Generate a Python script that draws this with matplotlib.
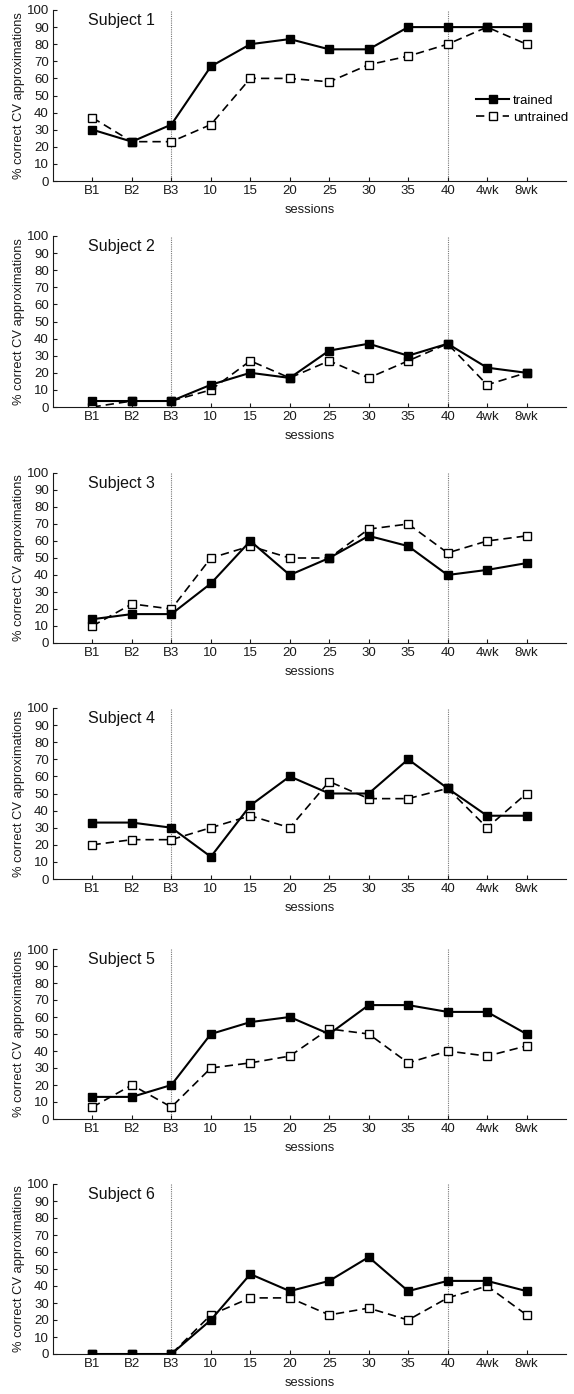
import matplotlib
matplotlib.use("Agg")
import matplotlib.pyplot as plt

plt.rcParams['font.family'] = ['Liberation Sans', 'DejaVu Sans']

sessions = ["B1", "B2", "B3", "10", "15", "20", "25", "30", "35", "40", "4wk", "8wk"]

s1_trained = [30, 23, 33, 67, 80, 83, 77, 77, 90, 90, 90, 90]
s1_untrained = [37, 23, 23, 33, 60, 60, 58, 68, 73, 80, 90, 80]

s2_trained = [3.5, 3.5, 3.5, 13, 20, 17, 33, 37, 30, 37, 23, 20]
s2_untrained = [0, 3.5, 3.5, 10, 27, 17, 27, 17, 27, 37, 13, 20]

s3_trained = [14, 17, 17, 35, 60, 40, 50, 63, 57, 40, 43, 47]
s3_untrained = [10, 23, 20, 50, 57, 50, 50, 67, 70, 53, 60, 63]

s4_trained = [33, 33, 30, 13, 43, 60, 50, 50, 70, 53, 37, 37]
s4_untrained = [20, 23, 23, 30, 37, 30, 57, 47, 47, 53, 30, 50]

s5_trained = [13, 13, 20, 50, 57, 60, 50, 67, 67, 63, 63, 50]
s5_untrained = [7, 20, 7, 30, 33, 37, 53, 50, 33, 40, 37, 43]

s6_trained = [0, 0, 0, 20, 47, 37, 43, 57, 37, 43, 43, 37]
s6_untrained = [0, 0, 0, 23, 33, 33, 23, 27, 20, 33, 40, 23]

trained = [s1_trained, s2_trained, s3_trained, s4_trained, s5_trained, s6_trained]
untrained = [s1_untrained, s2_untrained, s3_untrained, s4_untrained, s5_untrained, s6_untrained]

# panel top/bottom in pixels (from top of figure)
tops = [10, 236, 473, 708, 949, 1184]
bottoms = [181, 407, 643, 879, 1119, 1354]
W, H = 574, 1394
left_px, right_px = 53, 566

fig = plt.figure(figsize=(W / 100, H / 100), dpi=100)

x = list(range(1, len(sessions) + 1))
txt = '#1a1a1a'

for i in range(6):
    top, bot = tops[i], bottoms[i]
    ax = fig.add_axes([left_px / W, 1 - bot / H, (right_px - left_px) / W, (bot - top) / H])

    ax.axvline(3, color='#777777', lw=0.8, ls=(0, (1, 1)), zorder=1)
    ax.axvline(10, color='#777777', lw=0.8, ls=(0, (1, 1)), zorder=1)

    ax.plot(x, trained[i], color='black', lw=1.5, marker='s', markersize=5.5,
            markerfacecolor='black', markeredgecolor='black', label='trained', zorder=3)
    ax.plot(x, untrained[i], color='black', lw=1.2, ls=(0, (5, 3)), marker='s', markersize=5.5,
            markerfacecolor='white', markeredgecolor='black', markeredgewidth=1.0,
            label='untrained', zorder=2)

    ax.set_xlim(0, 13)
    ax.set_ylim(0, 100)
    ax.set_xticks(x)
    ax.set_xticklabels(sessions)
    ax.set_yticks(range(0, 101, 10))
    ax.tick_params(direction='in', length=3, width=0.8, labelsize=9.5, pad=3,
                   colors=txt)
    for s in ['top', 'right']:
        ax.spines[s].set_visible(False)
    for s in ['left', 'bottom']:
        ax.spines[s].set_linewidth(0.8)
        ax.spines[s].set_color(txt)

    ax.set_ylabel('% correct CV approximations', fontsize=9.3, color=txt, labelpad=1)
    ax.set_xlabel('sessions', fontsize=9.3, color=txt, labelpad=5)
    ax.text(0.068, 0.94, 'Subject %d' % (i + 1), transform=ax.transAxes,
            fontsize=11.5, va='center', ha='left', color='#111111')

    if i == 0:
        ax.legend(loc='center left', bbox_to_anchor=(0.825, 0.42), frameon=False,
                  fontsize=9.5, handlelength=2.5, handletextpad=0.3, borderpad=0,
                  borderaxespad=0, labelspacing=0.36)

fig.savefig('out.png', dpi=100)
